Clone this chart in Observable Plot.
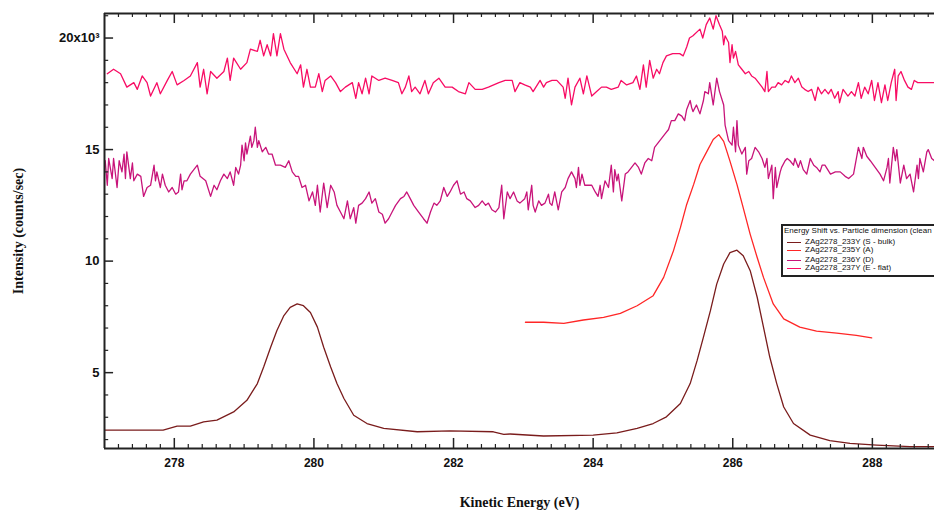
<!DOCTYPE html>
<html>
<head>
<meta charset="utf-8">
<script src="https://cdn.jsdelivr.net/npm/d3@7"></script>
<script src="https://cdn.jsdelivr.net/npm/@observablehq/plot@0.6"></script>
<style>
  html, body { margin: 0; padding: 0; background: #fff; overflow: hidden; }
  #wrap { position: relative; width: 934px; height: 510px; overflow: hidden; }
  #wrap svg text { font-weight: bold; }
  #legend { position: absolute; left: 781px; top: 224px; width: 170px; height: 53px;
    border: 2px solid #222; background: #fff; font-family: "Liberation Sans", Arial, sans-serif;
    font-size: 8px; color: #111; box-sizing: border-box; }
  #legend .title { position: absolute; left: 1px; top: 0px; white-space: nowrap; font-size: 8px; line-height: 9px; height: 9px; }
  #legend .row { position: absolute; left: 3px; white-space: nowrap; height: 8px; line-height: 8px; }
  #legend .row .sw { position: absolute; left: 1px; top: 3.5px; width: 14px; height: 1.6px; }
  #legend .row .lab { position: absolute; left: 19px; top: 0; line-height: 8px; height: 8px; }
</style>
</head>
<body>
<div id="wrap"><div id="legend"></div></div>
<script>
// Series names (legend)
const legendTitle = "Energy Shift vs. Particle dimension (clean";
const seriesNames = ["ZAg2278_233Y (S - bulk)", "ZAg2278_235Y (A)", "ZAg2278_236Y (D)", "ZAg2278_237Y (E - flat)"];
const seriesColors = ["#7a1c1c", "#ff2626", "#c8147a", "#f80c64"];

// Axis ticks
const xTickValues = [278, 280, 282, 284, 286, 288];
const yTickValues = [5, 10, 15, 20];
const yTickLabels = ["5", "10", "15", "20x10³"];

// Series 1: bulk (kinetic energy eV, intensity x10^3 counts/sec)
const bulkE = [277.0, 277.3, 277.6, 277.84, 278.04, 278.23, 278.42, 278.61, 278.85, 279.04, 279.19, 279.28, 279.38, 279.47, 279.57, 279.66, 279.76, 279.85, 279.95, 280.05, 280.14, 280.24, 280.33, 280.43, 280.57, 280.76, 281.0, 281.48, 281.95, 282.57, 282.72, 282.81, 283.29, 284.0, 284.34, 284.63, 284.86, 285.05, 285.25, 285.39, 285.49, 285.58, 285.68, 285.77, 285.87, 285.96, 286.06, 286.15, 286.25, 286.35, 286.44, 286.53, 286.63, 286.73, 286.87, 287.11, 287.39, 287.68, 288.06, 288.54, 288.89];
const bulkV = [2.42, 2.42, 2.42, 2.42, 2.6, 2.6, 2.79, 2.87, 3.24, 3.76, 4.51, 5.25, 6.14, 6.89, 7.56, 7.93, 8.08, 8.0, 7.7, 7.04, 6.14, 5.25, 4.51, 3.84, 3.09, 2.72, 2.5, 2.35, 2.39, 2.35, 2.23, 2.25, 2.16, 2.2, 2.3, 2.5, 2.72, 3.02, 3.62, 4.51, 5.55, 6.59, 7.78, 8.97, 9.87, 10.38, 10.49, 10.24, 9.57, 8.38, 7.04, 5.7, 4.51, 3.46, 2.72, 2.2, 1.95, 1.83, 1.75, 1.68, 1.68];

// Series 2: A
const aE = [283.03, 283.29, 283.58, 283.86, 284.15, 284.39, 284.63, 284.86, 285.01, 285.15, 285.25, 285.34, 285.44, 285.53, 285.63, 285.72, 285.8, 285.87, 285.96, 286.06, 286.15, 286.25, 286.35, 286.44, 286.58, 286.73, 286.96, 287.2, 287.49, 287.77, 287.99];
const aV = [7.26, 7.26, 7.21, 7.36, 7.48, 7.66, 8.0, 8.45, 9.27, 10.46, 11.5, 12.54, 13.44, 14.33, 14.92, 15.45, 15.67, 15.37, 14.48, 13.44, 12.39, 11.2, 10.16, 9.27, 8.08, 7.41, 7.04, 6.86, 6.77, 6.67, 6.56];

// Series 3: D (noisy, middle)
const dE = [277.01, 277.04, 277.06, 277.11, 277.13, 277.18, 277.21, 277.25, 277.28, 277.30, 277.32, 277.37, 277.40, 277.42, 277.47, 277.52, 277.56, 277.61, 277.66, 277.71, 277.73, 277.75, 277.80, 277.83, 277.87, 277.92, 277.97, 278.02, 278.06, 278.09, 278.11, 278.14, 278.18, 278.23, 278.28, 278.33, 278.37, 278.45, 278.52, 278.57, 278.61, 278.66, 278.71, 278.76, 278.80, 278.85, 278.88, 278.92, 278.95, 278.97, 279.00, 279.02, 279.04, 279.09, 279.11, 279.14, 279.16, 279.19, 279.21, 279.26, 279.31, 279.35, 279.40, 279.45, 279.52, 279.59, 279.64, 279.69, 279.74, 279.78, 279.83, 279.88, 279.93,
  279.98, 280.02, 280.05, 280.09, 280.14, 280.19, 280.24, 280.29, 280.33, 280.38, 280.43, 280.48, 280.52, 280.57, 280.60, 280.64, 280.69, 280.74, 280.79, 280.83, 280.88, 280.93, 280.98, 281.02, 281.07, 281.12, 281.17, 281.24, 281.29, 281.33, 281.38, 281.43, 281.50, 281.57, 281.62, 281.67, 281.72, 281.76, 281.81, 281.86, 281.91, 281.95, 282.00, 282.05, 282.10, 282.15, 282.19, 282.24, 282.31, 282.36, 282.41, 282.46, 282.50, 282.55, 282.60, 282.65, 282.69, 282.72, 282.77, 282.81, 282.86,
  282.91, 282.95, 283.02, 283.05, 283.07, 283.12, 283.14, 283.17, 283.22, 283.26, 283.31, 283.36, 283.38, 283.41, 283.45, 283.50, 283.55, 283.60, 283.64, 283.69, 283.74, 283.76, 283.79, 283.81, 283.84, 283.88, 283.93, 283.98, 284.03, 284.07, 284.10, 284.12, 284.17, 284.22, 284.26, 284.29, 284.31, 284.34, 284.36, 284.41, 284.46, 284.50, 284.55, 284.60, 284.65, 284.69, 284.74, 284.79, 284.84, 284.88, 284.93, 284.98, 285.03, 285.08, 285.12, 285.17, 285.22, 285.27, 285.31, 285.34, 285.39, 285.41, 285.43, 285.48, 285.53, 285.58, 285.60, 285.65, 285.67, 285.72, 285.77, 285.81,
  285.85, 285.87, 285.89, 285.94, 285.99, 286.01, 286.04, 286.06, 286.08, 286.13, 286.18, 286.20, 286.23, 286.27, 286.32, 286.37, 286.42, 286.46, 286.49, 286.51, 286.56, 286.58, 286.61, 286.63, 286.68, 286.70, 286.75, 286.78, 286.82, 286.87, 286.89, 286.94, 286.97, 287.01, 287.06, 287.11, 287.16, 287.20, 287.25, 287.28, 287.32, 287.40, 287.47, 287.54, 287.61, 287.66, 287.73, 287.80, 287.85, 287.87, 287.92, 287.97, 288.04, 288.11, 288.16, 288.21, 288.23, 288.25, 288.30, 288.33, 288.35, 288.40, 288.45, 288.49, 288.54, 288.59, 288.64, 288.66, 288.68, 288.73, 288.78, 288.80, 288.85, 288.89];
const dV = [14.5, 13.4, 14.6, 13.7, 14.6, 13.3, 14.5, 14.0, 14.8, 13.7, 14.9, 13.7, 14.4, 13.6, 13.9, 13.8, 12.9, 13.3, 13.4, 14.3, 13.6, 14.0, 13.3, 13.9, 13.4, 13.1, 13.3, 13.0, 13.1, 13.9, 13.2, 13.6, 13.6, 13.9, 14.1, 14.3, 13.8, 13.6, 12.9, 13.4, 13.2, 13.6, 13.9, 13.7, 14.0, 13.4, 14.2, 13.9, 14.3, 15.2, 14.5, 15.3, 14.8, 15.6, 15.1, 15.4, 16.0, 15.1, 15.4, 14.9, 15.1, 14.8, 14.8, 14.3, 14.3, 14.2, 14.5, 14.0, 13.8, 13.8, 13.3, 13.4, 12.7,
  13.1, 12.5, 13.4, 12.2, 13.5, 12.4, 13.4, 13.1, 12.5, 12.2, 11.9, 12.7, 11.9, 12.4, 11.7, 12.5, 12.6, 12.8, 13.1, 12.6, 12.8, 12.2, 12.1, 11.7, 11.9, 12.2, 12.5, 12.8, 12.9, 13.1, 12.8, 12.5, 12.2, 11.9, 11.7, 12.2, 12.6, 12.5, 12.7, 13.3, 12.9, 13.1, 13.4, 13.6, 13.0, 13.1, 12.8, 12.7, 12.4, 12.5, 12.7, 12.5, 12.6, 12.3, 12.2, 12.4, 13.4, 11.9, 13.1, 12.8, 13.1,
  12.7, 12.6, 12.8, 13.1, 12.3, 13.4, 12.5, 12.2, 12.7, 12.5, 12.6, 13.0, 12.6, 12.5, 13.1, 12.3, 13.1, 13.3, 13.7, 14.0, 13.7, 13.3, 14.2, 13.4, 13.9, 13.4, 13.4, 13.4, 13.1, 12.9, 13.4, 12.8, 13.6, 13.3, 14.3, 13.1, 14.1, 13.6, 13.9, 12.7, 13.9, 14.0, 14.2, 14.4, 14.2, 13.9, 14.4, 14.6, 14.5, 15.1, 15.3, 15.5, 15.7, 15.9, 16.3, 16.3, 16.6, 16.5, 16.3, 16.8, 17.2, 16.9, 16.7, 17.0, 16.6, 17.2, 17.6, 17.5, 18.0, 17.0, 18.2, 17.6,
  17.2, 17.0, 16.1, 15.4, 15.2, 16.0, 14.9, 16.3, 15.2, 14.8, 15.1, 13.9, 14.5, 14.6, 15.1, 14.9, 14.6, 14.2, 14.6, 13.7, 14.3, 12.8, 14.2, 13.3, 14.0, 14.2, 14.5, 14.6, 14.5, 14.3, 14.6, 14.2, 14.5, 14.1, 13.9, 14.6, 14.3, 14.2, 14.0, 14.3, 14.3, 13.9, 14.0, 14.0, 13.8, 13.7, 13.9, 15.1, 14.6, 15.1, 14.7, 14.5, 14.2, 13.9, 13.6, 14.2, 14.6, 13.5, 15.1, 14.5, 15.0, 13.5, 14.3, 13.7, 13.9, 13.1, 14.3, 13.7, 14.6, 14.0, 14.9, 15.0, 14.6, 14.5];

// Series 4: E - flat (noisy, top)
const eE = [277.04, 277.13, 277.23, 277.32, 277.42, 277.47, 277.54, 277.61, 277.66, 277.75, 277.80, 277.90, 277.97, 278.04, 278.14, 278.23, 278.33, 278.37, 278.42, 278.47, 278.52, 278.61, 278.71, 278.76, 278.80, 278.85, 278.95, 279.04, 279.09, 279.19, 279.23, 279.28, 279.33, 279.38, 279.42, 279.47, 279.52, 279.57, 279.66, 279.76, 279.81, 279.85, 279.90, 279.95,
  280.02, 280.07, 280.12, 280.16, 280.24, 280.31, 280.38, 280.45, 280.55, 280.60, 280.64, 280.69, 280.74, 280.79, 280.83, 280.93, 281.02, 281.12, 281.21, 281.26, 281.31, 281.36, 281.40, 281.45, 281.52, 281.59, 281.64, 281.71, 281.79, 281.88, 281.98, 282.07, 282.17, 282.22, 282.31, 282.41, 282.50, 282.65, 282.74, 282.84, 282.88,
  282.95, 283.02, 283.10, 283.14, 283.24, 283.29, 283.33, 283.41, 283.48, 283.57, 283.60, 283.64, 283.69, 283.74, 283.81, 283.86, 283.91, 283.98, 284.05, 284.12, 284.19, 284.26, 284.36, 284.40, 284.48, 284.57, 284.62, 284.67, 284.72, 284.76, 284.81, 284.86, 284.91, 284.95, 285.00, 285.05, 285.14, 285.24, 285.29, 285.34, 285.38, 285.43, 285.53, 285.57, 285.62, 285.67, 285.72, 285.76, 285.81,
  285.85, 285.87, 285.89, 285.94, 285.96, 285.99, 286.01, 286.04, 286.08, 286.13, 286.18, 286.23, 286.27, 286.32, 286.37, 286.42, 286.46, 286.49, 286.51, 286.56, 286.61, 286.65, 286.70, 286.75, 286.80, 286.84, 286.89, 286.94, 286.99, 287.03, 287.08, 287.13, 287.18, 287.22, 287.27, 287.32, 287.37, 287.41, 287.46, 287.51, 287.53, 287.58, 287.65, 287.70, 287.75, 287.80, 287.84, 287.89, 287.94, 287.99, 288.03, 288.08, 288.13, 288.18, 288.22, 288.27, 288.32, 288.34, 288.37, 288.41, 288.46, 288.51, 288.56, 288.60, 288.65, 288.75, 288.89];
const eV = [18.4, 18.6, 18.4, 17.8, 18.0, 17.7, 18.3, 18.0, 17.4, 18.0, 17.5, 18.1, 18.5, 17.9, 18.1, 18.3, 18.9, 17.8, 18.6, 17.5, 18.5, 18.2, 18.5, 19.1, 18.1, 19.1, 18.6, 18.9, 19.5, 19.4, 19.9, 19.2, 19.7, 19.2, 20.2, 19.2, 20.2, 19.5, 18.9, 18.4, 18.8, 17.8, 18.6, 17.8,
  17.8, 18.4, 17.6, 18.1, 18.3, 18.0, 17.6, 17.8, 18.0, 17.3, 18.0, 17.5, 18.2, 17.5, 18.3, 18.1, 18.2, 18.1, 18.0, 17.5, 17.8, 18.3, 17.6, 17.8, 17.5, 18.1, 17.5, 18.0, 18.2, 17.8, 17.8, 17.6, 17.5, 18.0, 17.7, 17.7, 17.8, 18.0, 18.1, 18.1, 17.6,
  18.0, 17.9, 17.8, 17.6, 18.1, 17.8, 18.0, 18.1, 18.1, 17.8, 17.3, 18.2, 17.0, 17.8, 18.2, 17.5, 18.3, 17.4, 17.6, 17.8, 17.8, 17.7, 17.8, 18.1, 17.9, 18.0, 18.3, 17.7, 18.8, 17.8, 19.0, 18.2, 18.6, 18.4, 18.9, 19.2, 19.3, 19.3, 19.2, 19.6, 20.0, 20.1, 20.4, 20.0, 20.6, 20.9, 20.4, 21.0, 20.6,
  20.3, 19.7, 20.1, 19.8, 18.9, 19.7, 19.1, 19.4, 18.8, 18.6, 18.4, 18.5, 18.3, 18.2, 18.0, 17.8, 17.6, 18.5, 17.6, 17.8, 17.8, 18.0, 17.9, 18.1, 18.0, 18.3, 18.0, 18.2, 17.8, 17.7, 17.6, 17.7, 17.2, 17.8, 17.5, 17.7, 17.5, 17.7, 17.3, 17.6, 17.1, 17.7, 17.4, 17.6, 17.4, 18.0, 17.3, 17.8, 17.5, 18.1, 17.2, 18.0, 17.1, 17.9, 17.2, 18.0, 18.6, 17.2, 18.3, 18.5, 18.1, 17.8, 17.7, 18.1, 18.0, 18.0, 18.0];

const toRows = (E, V) => E.map((e, i) => ({e, v: V[i]}));
const series = [toRows(bulkE, bulkV), toRows(aE, aV), toRows(dE, dV), toRows(eE, eV)];

const xDom = [277, 288.89];
const yDom = [1.6, 21.1];
const xMinor = d3.range(277.2, 288.89, 0.2).filter(t => Math.abs(t / 2 - Math.round(t / 2)) > 0.01);
const yMinor = d3.range(2, 21.1, 1).filter(t => t % 5 !== 0);
const ink = "#222";
const serif = "'Liberation Serif', 'Times New Roman', serif";

const chart = Plot.plot({
  width: 934,
  height: 510,
  marginLeft: 104,
  marginRight: 0,
  marginTop: 13,
  marginBottom: 62,
  style: {fontFamily: "'Liberation Sans', Arial, sans-serif", fontSize: "12px", color: "#111", background: "#fff"},
  x: {domain: xDom},
  y: {domain: yDom},
  marks: [
    // data lines
    Plot.line(series[3], {x: "e", y: "v", stroke: seriesColors[3], strokeWidth: 1.3, clip: true}),
    Plot.line(series[2], {x: "e", y: "v", stroke: seriesColors[2], strokeWidth: 1.3, clip: true}),
    Plot.line(series[1], {x: "e", y: "v", stroke: seriesColors[1], strokeWidth: 1.3, clip: true}),
    Plot.line(series[0], {x: "e", y: "v", stroke: seriesColors[0], strokeWidth: 1.3, clip: true}),
    // frame
    Plot.ruleX([xDom[0]], {stroke: ink, strokeWidth: 2}),
    Plot.ruleY([yDom[0]], {stroke: ink, strokeWidth: 2}),
    Plot.ruleY([yDom[1]], {stroke: ink, strokeWidth: 2}),
    // inward ticks: bottom
    Plot.ruleX(xTickValues, {y1: yDom[0], y2: yDom[0] + 0.45, stroke: ink, strokeWidth: 1.5}),
    Plot.ruleX(xMinor, {y1: yDom[0], y2: yDom[0] + 0.18, stroke: ink, strokeWidth: 1.2}),
    // inward ticks: top
    Plot.ruleX(xTickValues, {y1: yDom[1], y2: yDom[1] - 0.45, stroke: ink, strokeWidth: 1.5}),
    Plot.ruleX(xMinor, {y1: yDom[1], y2: yDom[1] - 0.18, stroke: ink, strokeWidth: 1.2}),
    // inward ticks: left
    Plot.ruleY(yTickValues, {x1: xDom[0], x2: xDom[0] + 0.13, stroke: ink, strokeWidth: 1.5}),
    Plot.ruleY(yMinor, {x1: xDom[0], x2: xDom[0] + 0.06, stroke: ink, strokeWidth: 1.2}),
    // tick labels
    Plot.axisX({ticks: xTickValues, tickSize: 0, tickPadding: 10, label: null, tickFormat: d => String(d), fontSize: 12}),
    Plot.axisY({ticks: yTickValues, tickSize: 0, tickPadding: 5, label: null, tickFormat: d => yTickLabels[yTickValues.indexOf(d)], fontSize: 13}),
    // axis titles
    Plot.text(["Kinetic Energy (eV)"], {frameAnchor: "bottom", dy: 58, text: d => d, textAnchor: "middle", fontFamily: serif, fontSize: 14}),
    Plot.text(["Intensity (counts/sec)"], {frameAnchor: "left", dx: -86, rotate: -90, textAnchor: "middle", text: d => d, fontFamily: serif, fontSize: 14})
  ]
});

const wrap = document.getElementById("wrap");
wrap.insertBefore(chart, wrap.firstChild);

const legend = document.getElementById("legend");
const t = document.createElement("div");
t.className = "title";
t.textContent = legendTitle;
legend.appendChild(t);
const rowTops = [12, 20, 30, 38];
seriesNames.forEach((name, i) => {
  const r = document.createElement("div");
  r.className = "row";
  r.style.top = rowTops[i] + "px";
  const sw = document.createElement("div");
  sw.className = "sw";
  sw.style.background = seriesColors[i];
  r.appendChild(sw);
  const lab = document.createElement("div");
  lab.className = "lab";
  lab.textContent = name;
  r.appendChild(lab);
  legend.appendChild(r);
});
</script>
</body>
</html>
